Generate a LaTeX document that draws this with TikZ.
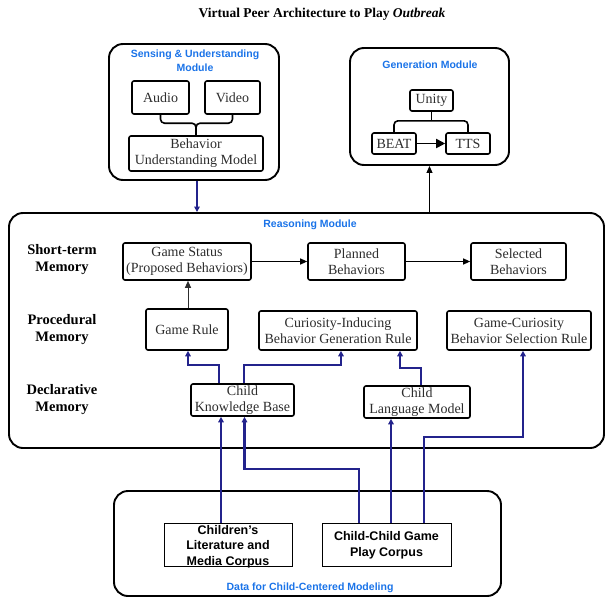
\documentclass[tikz,border=0pt]{standalone}
\usepackage{fontspec}
\setmainfont{Liberation Serif}
\setsansfont{Liberation Sans}
\usetikzlibrary{arrows.meta}
\definecolor{modblue}{RGB}{26,115,232}
\definecolor{navy}{RGB}{35,35,140}
\definecolor{txtgray}{RGB}{45,45,45}
\tikzset{
 module/.style={draw, line width=1.9pt, rounded corners=14pt, inner sep=0pt},
 box/.style={draw, line width=1.6pt, rounded corners=2pt, align=center, inner sep=0pt, text=txtgray, font=\fontsize{14}{16}\selectfont},
 corpus/.style={draw, line width=0.9pt, inner sep=0pt},
 ctext/.style={align=center, font=\sffamily\bfseries\fontsize{12.5}{15.5}\selectfont},
 modlabel/.style={text=modblue, align=center, font=\sffamily\bfseries\fontsize{10.5}{14}\selectfont},
 rowlabel/.style={align=center, font=\bfseries\fontsize{14.5}{17}\selectfont},
 navyarrow/.style={draw=navy, line width=2.1pt, -{Triangle[length=5.5pt,width=5.5pt]}},
 blackarrow/.style={draw, line width=1pt, -{Triangle[length=7pt,width=6pt]}},
 brace/.style={draw, line width=1.6pt, rounded corners=4pt},
}
\begin{document}
\begin{tikzpicture}[x=1pt,y=-1pt]
\useasboundingbox (0,0) rectangle (605,597);
% title
\node[font=\bfseries\fontsize{13.5}{16}\selectfont] (title) at (322,14) {Virtual Peer Architecture to Play \textit{Outbreak}};

% sensing module
\node[module, minimum width=170, minimum height=136] (sensing) at (194,112) {};
\node[modlabel] (senselab) at (195,61) {Sensing \& Understanding\\Module};
\node[box, minimum width=57, minimum height=33] (audio) at (160.5,97.5) {Audio};
\node[box, minimum width=55, minimum height=33] (video) at (232.5,97.5) {Video};
\node[box, minimum width=134, minimum height=35] (bum) at (196,153.5) {Behavior\\Understanding Model};
\draw[brace] (audio.south) |- ([yshift=12pt]bum.north) -- (bum.north);
\draw[brace] (video.south) |- ([yshift=12pt]bum.north) -- (bum.north);

% generation module
\node[module, minimum width=159, minimum height=117] (gen) at (429.5,106.5) {};
\node[modlabel] (genlab) at (430,65) {Generation Module};
\node[box, minimum width=43, minimum height=21] (unity) at (431.5,100.5) {Unity};
\node[box, minimum width=44, minimum height=21] (beat) at (394,143.5) {BEAT};
\node[box, minimum width=44, minimum height=21] (tts) at (468,143.5) {TTS};
\draw[brace] (beat.north) |- ([yshift=-9pt]unity.south) -| (tts.north);
\draw[brace] (unity.south) -- ([yshift=-9pt]unity.south);
\draw[line width=1.8pt, -{Triangle[length=9pt,width=9pt]}] (beat) -- (tts);

% reasoning module
\node[module, minimum width=595, minimum height=235] (reason) at (306.5,330.5) {};
\node[modlabel] (reasonlab) at (310,225) {Reasoning Module};
\node[rowlabel] (stm) at (62,260) {Short-term\\Memory};
\node[rowlabel] (pm) at (62,329.5) {Procedural\\Memory};
\node[rowlabel] (dm) at (62,400) {Declarative\\Memory};

\node[box, minimum width=128, minimum height=37] (gs) at (187,261.5) {Game Status\\(Proposed Behaviors)};
\node[box, minimum width=97, minimum height=37] (planned) at (356.5,261.5) {Planned\\Behaviors};
\node[box, minimum width=95, minimum height=37] (selected) at (518.5,261.5) {Selected\\Behaviors};
\node[box, minimum width=82, minimum height=41] (gr) at (187,329.5) {Game Rule};
\node[box, minimum width=158, minimum height=39] (cur) at (338,330.5) {Curiosity-Inducing\\Behavior Generation Rule};
\node[box, minimum width=144, minimum height=39] (gcs) at (519,330.5) {Game-Curiosity\\Behavior Selection Rule};
\node[box, minimum width=103, minimum height=32] (ckb) at (242.5,400) {Child\\Knowledge Base};
\node[box, minimum width=106, minimum height=32] (clm) at (417,402) {Child\\Language Model};

\draw[blackarrow] (gs) -- (planned);
\draw[blackarrow] (planned) -- (selected);
\draw[blackarrow, draw=txtgray] ([xshift=1pt]gr.north) -- ([xshift=1pt]gs.south);

% data module
\node[module, minimum width=387, minimum height=105] (data) at (307.5,543.5) {};
\node[modlabel] (datalab) at (310,588) {Data for Child-Centered Modeling};
\node[corpus, minimum width=128, minimum height=43] (lit) at (228,544.5) {};
\node[ctext] (littext) at (228,546.5) {Children’s\\Literature and\\Media Corpus};
\node[corpus, minimum width=129, minimum height=43] (play) at (386.5,544.5) {};
\node[ctext] (playtext) at (386.5,545.5) {Child-Child Game\\Play Corpus};

% connectors
\draw[navyarrow] ([xshift=3pt]sensing.south) -- ([xshift=3pt]sensing.south |- reason.north);
\draw[blackarrow] (gen.south |- reason.north) -- (gen.south);
\draw[navyarrow] ([xshift=-23.5pt]ckb.north) -- ++(0,-18) -| ([xshift=1pt]gr.south);
\draw[navyarrow] ([xshift=1.5pt]ckb.north) -- ++(0,-18) -| ([xshift=3pt]cur.south);
\draw[navyarrow] ([xshift=4pt]clm.north) -- ++(0,-17) -| ([xshift=62pt]cur.south);
\draw[navyarrow] ([xshift=-7pt]lit.north) -- ([xshift=-7pt]lit.north |- ckb.south);
\draw[navyarrow] ([xshift=-27.5pt]play.north) -- ++(0,-54) -| ([xshift=2pt]ckb.south);
\draw[navyarrow] ([xshift=4.5pt]play.north) -- ([xshift=4.5pt]play.north |- clm.south);
\draw[navyarrow] ([xshift=37.5pt]play.north) -- ++(0,-86) -| ([xshift=4pt]gcs.south);
\end{tikzpicture}
\end{document}
